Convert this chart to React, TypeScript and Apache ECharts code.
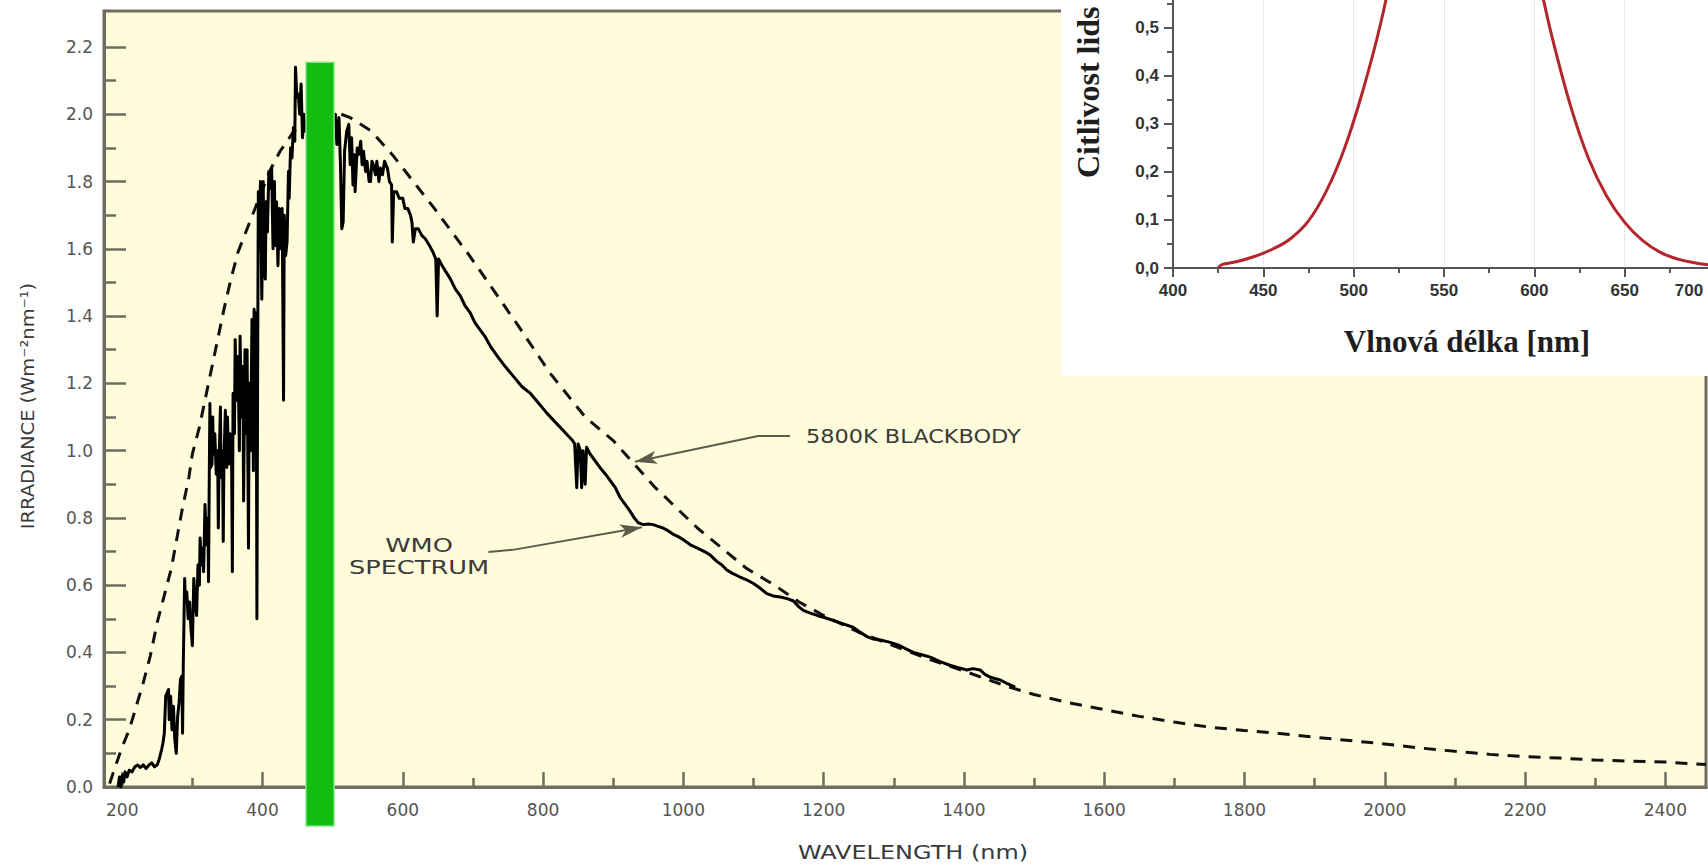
import React, { useEffect, useRef } from 'react';
import * as echarts from 'echarts';

// ---------- main chart data ----------
const wavelengthTicks = [200, 400, 600, 800, 1000, 1200, 1400, 1600, 1800, 2000, 2200, 2400];
const wavelengthMinorTicks = [300, 500, 700, 900, 1100, 1300, 1500, 1700, 1900, 2100, 2300];
const irradianceTicks = [0, 0.2, 0.4, 0.6, 0.8, 1.0, 1.2, 1.4, 1.6, 1.8, 2.0, 2.2];
const irradianceMinorTicks = [0.1, 0.3, 0.5, 0.7, 0.9, 1.1, 1.3, 1.5, 1.7, 1.9, 2.1];

// 5800 K blackbody (dashed) [nm, W m-2 nm-1]
const blackbody: [number, number][] = [
  [182, 0.01], [190, 0.06], [200, 0.12], [210, 0.17], [220, 0.24], [230, 0.31], [240, 0.39], [250, 0.49],
  [260, 0.57], [270, 0.65], [285, 0.82], [295, 0.92], [300, 0.99], [310, 1.07], [325, 1.22], [335, 1.32],
  [345, 1.42], [355, 1.51], [365, 1.59], [380, 1.67], [395, 1.75], [410, 1.83], [425, 1.89], [445, 1.95],
  [470, 1.99], [500, 2.01], [525, 1.99], [555, 1.95], [585, 1.88], [615, 1.8], [645, 1.72], [670, 1.65],
  [695, 1.58], [715, 1.52], [735, 1.46], [765, 1.37], [810, 1.23], [860, 1.1], [900, 1.03], [930, 0.96],
  [960, 0.89], [990, 0.83], [1020, 0.77], [1055, 0.71], [1090, 0.65], [1130, 0.6], [1165, 0.55], [1200, 0.51],
  [1250, 0.46], [1300, 0.42], [1350, 0.38], [1400, 0.345], [1460, 0.3], [1500, 0.275], [1550, 0.25],
  [1600, 0.23], [1650, 0.21], [1700, 0.193], [1750, 0.178], [1800, 0.168], [1850, 0.159], [1900, 0.148],
  [1950, 0.138], [2000, 0.128], [2050, 0.116], [2100, 0.106], [2150, 0.097], [2200, 0.09], [2250, 0.086],
  [2300, 0.08], [2350, 0.077], [2400, 0.074], [2458, 0.067],
];

// WMO measured spectrum (solid) [nm, W m-2 nm-1]
const wmoSpectrum: [number, number][] = [
  [194, 0.0], [196, 0.03], [198, 0.0], [200, 0.035], [202, 0.015], [204, 0.045], [207, 0.03], [210, 0.05],
  [214, 0.045], [218, 0.06], [222, 0.065], [226, 0.058], [230, 0.066], [234, 0.055], [238, 0.065], [242, 0.072],
  [246, 0.06], [250, 0.066], [253, 0.085], [256, 0.11], [258, 0.13], [260, 0.16], [262, 0.27], [264, 0.28],
  [266, 0.29], [267, 0.2], [269, 0.27], [271, 0.17], [273, 0.24], [275, 0.14], [277, 0.1], [279, 0.21],
  [281, 0.25], [283, 0.32], [285, 0.33], [286, 0.16], [287, 0.36], [289, 0.62], [290, 0.55], [292, 0.58],
  [294, 0.5], [296, 0.55], [298, 0.47], [300, 0.42], [302, 0.62], [304, 0.55], [306, 0.51], [308, 0.66],
  [310, 0.6], [311, 0.74], [313, 0.66], [315, 0.71], [316, 0.64], [318, 0.84], [320, 0.72], [322, 0.8],
  [323, 0.61], [324, 0.9], [325, 1.14], [326, 0.95], [328, 0.96], [329, 1.1], [330, 0.99], [332, 1.05],
  [334, 0.93], [336, 1.0], [337, 0.77], [338, 0.96], [340, 1.13], [341, 0.92], [343, 1.0], [344, 0.73],
  [345, 0.97], [347, 1.12], [349, 0.95], [350, 1.1], [352, 0.96], [354, 1.05], [356, 0.95], [357, 0.64],
  [358, 1.17], [360, 1.05], [361, 1.33], [363, 1.15], [365, 1.28], [367, 1.0], [368, 1.34], [370, 1.1],
  [372, 1.25], [373, 0.85], [375, 1.3], [377, 1.05], [378, 1.3], [380, 0.71], [381, 1.2], [383, 1.0],
  [385, 1.39], [387, 0.94], [388, 1.42], [390, 1.1], [391, 1.41], [392, 0.5], [393, 1.2], [394, 1.77],
  [396, 1.6], [397, 1.8], [399, 1.45], [401, 1.8], [402, 1.55], [404, 1.51], [405, 1.74], [407, 1.65],
  [409, 1.83], [411, 1.78], [413, 1.84], [415, 1.6], [417, 1.8], [418, 1.61], [420, 1.74], [422, 1.55],
  [424, 1.72], [426, 1.6], [428, 1.72], [430, 1.15], [431, 1.7], [433, 1.58], [435, 1.62], [437, 1.83],
  [438, 1.75], [440, 1.9], [442, 1.87], [444, 1.96], [446, 1.92], [447, 2.14], [449, 2.05], [451, 2.06],
  [453, 2.0], [455, 2.09], [457, 1.93], [459, 2.0], [461, 1.95], [470, 2.0], [480, 2.04], [490, 1.96],
  [500, 1.98], [504, 2.0], [506, 1.91], [509, 1.99], [511, 1.86], [513, 1.66], [515, 1.68], [517, 1.89],
  [520, 1.95], [523, 1.97], [525, 1.85], [527, 1.93], [529, 1.79], [531, 1.88], [532, 1.77], [535, 1.9],
  [537, 1.88], [540, 1.92], [542, 1.85], [544, 1.89], [547, 1.83], [549, 1.86], [552, 1.8], [554, 1.8],
  [556, 1.86], [558, 1.85], [561, 1.82], [563, 1.86], [566, 1.8], [568, 1.84], [571, 1.82], [574, 1.86],
  [578, 1.84], [581, 1.8], [584, 1.79], [585, 1.62], [587, 1.77], [591, 1.77], [595, 1.75], [600, 1.75],
  [603, 1.72], [607, 1.72], [611, 1.7], [613, 1.68], [615, 1.62], [618, 1.66], [622, 1.66], [627, 1.64],
  [632, 1.63], [638, 1.61], [643, 1.59], [647, 1.57], [649, 1.4], [651, 1.57], [656, 1.55], [662, 1.53],
  [668, 1.51], [675, 1.48], [682, 1.46], [689, 1.43], [696, 1.41], [703, 1.38], [710, 1.36], [717, 1.34],
  [725, 1.31], [735, 1.28], [746, 1.25], [758, 1.22], [770, 1.19], [782, 1.17], [794, 1.14], [806, 1.11],
  [815, 1.09], [824, 1.07], [833, 1.05], [842, 1.03], [845, 1.02], [848, 0.89], [850, 1.02], [853, 1.0],
  [855, 0.89], [857, 1.0], [860, 0.9], [862, 1.01], [867, 0.99], [874, 0.97], [881, 0.95], [889, 0.93],
  [896, 0.91], [903, 0.89], [910, 0.86], [917, 0.84], [924, 0.82], [930, 0.8], [936, 0.785], [943, 0.78],
  [950, 0.782], [957, 0.78], [964, 0.775], [971, 0.77], [978, 0.762], [985, 0.752], [992, 0.745], [1000, 0.735],
  [1010, 0.72], [1020, 0.71], [1030, 0.7], [1038, 0.69], [1048, 0.67], [1055, 0.66], [1062, 0.645], [1070, 0.635],
  [1080, 0.625], [1091, 0.615], [1100, 0.605], [1110, 0.59], [1119, 0.575], [1128, 0.568], [1138, 0.565],
  [1148, 0.56], [1157, 0.553], [1164, 0.537], [1171, 0.525], [1181, 0.517], [1191, 0.51], [1202, 0.503],
  [1214, 0.495], [1228, 0.485], [1242, 0.475], [1252, 0.46], [1262, 0.447], [1271, 0.44], [1281, 0.437],
  [1295, 0.43], [1309, 0.42], [1318, 0.41], [1328, 0.4], [1340, 0.393], [1352, 0.386], [1366, 0.373],
  [1380, 0.362], [1392, 0.355], [1404, 0.348], [1413, 0.352], [1423, 0.348], [1430, 0.335], [1437, 0.327],
  [1445, 0.322], [1452, 0.318], [1462, 0.307], [1473, 0.297],
];

// green band [from nm, to nm, top value, bottom value]
const greenBand: [number, number, number, number][] = [[462, 502, 2.155, -0.116]];

// annotation leaders, in data coordinates
const blackbodyLeader: [number, number][] = [[1152, 1.043], [1105, 1.043], [931, 0.967]];
const wmoLeader: [number, number][] = [[722, 0.699], [757, 0.705], [941, 0.772]];

// ---------- inset (eye sensitivity) ----------
const eyeTicks = [400, 450, 500, 550, 600, 650, 700];
const eyeSensitivity: [number, number][] = [
  [425, 0.0], [427, 0.007], [435, 0.013], [445, 0.024], [455, 0.039],
  [465, 0.061], [475, 0.098], [485, 0.161],
  [495, 0.25], [505, 0.368], [515, 0.51], [525, 0.685],
  [540, 0.91], [555, 1.0], [570, 0.945], [585, 0.81], [600, 0.635],
  [610, 0.478], [620, 0.338], [630, 0.228],
  [640, 0.15], [650, 0.095], [660, 0.057], [670, 0.032],
  [680, 0.018], [690, 0.01], [700, 0.005],
];

const axisGray = '#6f6d60';
const labelGray = '#555555';

function leaderData(pts: [number, number][]) {
  const out: any[] = [];
  for (let i = 0; i < pts.length - 1; i++) {
    const last = i === pts.length - 2;
    out.push([
      { coord: pts[i], symbol: 'none' },
      last ? { coord: pts[i + 1], symbol: 'arrow', symbolSize: [10, 22] } : { coord: pts[i + 1], symbol: 'none' },
    ]);
  }
  return out;
}

function textEl(x: number, y: number, text: string, opts: any = {}) {
  const align = opts.align || 'center';
  return {
    type: 'text',
    x,
    y,
    rotation: opts.rotation || 0,
    scaleX: opts.scaleX || 1,
    z: opts.z || 5,
    silent: true,
    style: {
      text,
      fill: opts.fill || '#3a3a3a',
      fontFamily: opts.fontFamily || 'DejaVu Sans',
      fontSize: opts.fontSize || 19,
      fontWeight: opts.fontWeight || 'normal',
      lineHeight: opts.lineHeight,
      textAlign: align,
      align,
      textVerticalAlign: 'middle',
      verticalAlign: 'middle',
    },
  };
}

export default function App() {
  const ref = useRef<HTMLDivElement>(null);
  useEffect(() => {
    document.body.style.margin = '0';
    const chart = echarts.init(ref.current!, null, { renderer: 'svg', width: 1708, height: 866 });
    const lastEyeTick = eyeTicks[eyeTicks.length - 1];
    const option: any = {
      animation: false,
      backgroundColor: '#ffffff',
      grid: [
        {
          left: 104, top: 11, width: 1602, height: 776, show: true,
          backgroundColor: '#fffcdb', borderColor: axisGray, borderWidth: 3,
          containLabel: false, outerBoundsMode: 'none', z: 0,
        },
        { left: 1173, top: -1, width: 542, height: 269, show: false, containLabel: false, outerBoundsMode: 'none', z: 20 },
      ],
      xAxis: [
        {
          type: 'value', gridIndex: 0, min: 174, max: 2458, position: 'bottom',
          axisLine: { show: true, lineStyle: { color: axisGray, width: 3 } },
          axisTick: { show: true, inside: true, length: 15, customValues: wavelengthTicks, lineStyle: { color: axisGray, width: 2.5 } },
          axisLabel: {
            show: true, customValues: wavelengthTicks, margin: 14, color: labelGray,
            fontFamily: 'DejaVu Sans', fontSize: 17, formatter: (v: number) => String(v),
          },
          splitLine: { show: false },
        },
        {
          type: 'value', gridIndex: 0, min: 174, max: 2458, position: 'bottom',
          axisLine: { show: false },
          axisTick: { show: true, inside: true, length: 9, customValues: wavelengthMinorTicks, lineStyle: { color: axisGray, width: 2.5 } },
          axisLabel: { show: false },
          splitLine: { show: false },
        },
        {
          type: 'value', gridIndex: 1, min: 400, max: 700, interval: 50, position: 'bottom', z: 20,
          axisLine: { show: true, lineStyle: { color: '#555555', width: 2 } },
          axisTick: { show: true, inside: false, length: 9, lineStyle: { color: '#555555', width: 2 } },
          minorTick: { show: true, splitNumber: 2, length: 5, lineStyle: { color: '#555555', width: 2 } },
          axisLabel: {
            margin: 14, color: '#333333', fontFamily: 'Liberation Sans', fontWeight: 'bold', fontSize: 17,
            formatter: (v: number) => (v === lastEyeTick ? '{edge|' + v + '}' : String(v)),
            rich: { edge: { padding: [0, 52, 0, 0], color: '#333333', fontFamily: 'Liberation Sans', fontWeight: 'bold', fontSize: 17 } },
          },
          splitLine: { show: true, lineStyle: { color: '#cfcfcf', type: 'dotted', width: 1 } },
        },
      ],
      yAxis: [
        {
          type: 'value', gridIndex: 0, min: 0, max: 2.307, position: 'left',
          axisLine: { show: true, lineStyle: { color: axisGray, width: 3 } },
          axisTick: { show: true, inside: true, length: 22, customValues: irradianceTicks, lineStyle: { color: axisGray, width: 2.5 } },
          axisLabel: {
            show: true, customValues: irradianceTicks, margin: 11, color: labelGray,
            fontFamily: 'DejaVu Sans', fontSize: 17, formatter: (v: number) => v.toFixed(1),
          },
          splitLine: { show: false },
        },
        {
          type: 'value', gridIndex: 0, min: 0, max: 2.307, position: 'left',
          axisLine: { show: false },
          axisTick: { show: true, inside: true, length: 12, customValues: irradianceMinorTicks, lineStyle: { color: axisGray, width: 2.5 } },
          axisLabel: { show: false },
          splitLine: { show: false },
        },
        {
          type: 'value', gridIndex: 1, min: 0, max: 0.56, interval: 0.1, position: 'left', z: 20,
          axisLine: { show: true, lineStyle: { color: '#555555', width: 2 } },
          axisTick: { show: true, inside: false, length: 9, lineStyle: { color: '#555555', width: 2 } },
          minorTick: { show: true, splitNumber: 2, length: 6, lineStyle: { color: '#555555', width: 2 } },
          axisLabel: {
            margin: 14, color: '#333333', fontFamily: 'Liberation Sans', fontWeight: 'bold', fontSize: 17,
            showMaxLabel: false, formatter: (v: number) => v.toFixed(1).replace('.', ','),
          },
          splitLine: { show: false },
        },
      ],
      series: [
        {
          type: 'line', name: '5800K BLACKBODY', xAxisIndex: 0, yAxisIndex: 0, data: blackbody,
          symbol: 'none', z: 3, lineStyle: { color: '#111111', width: 3, type: [12, 9] },
          markLine: {
            silent: true, animation: false, symbol: ['none', 'none'], label: { show: false },
            emphasis: { disabled: true },
            lineStyle: { color: '#5c5a4c', width: 2, type: 'solid' },
            data: leaderData(blackbodyLeader),
          },
        },
        {
          type: 'line', name: 'WMO SPECTRUM', xAxisIndex: 0, yAxisIndex: 0, data: wmoSpectrum,
          symbol: 'none', z: 4, lineStyle: { color: '#000000', width: 3, join: 'round' },
          markLine: {
            silent: true, animation: false, symbol: ['none', 'none'], label: { show: false },
            emphasis: { disabled: true },
            lineStyle: { color: '#5c5a4c', width: 2, type: 'solid' },
            data: leaderData(wmoLeader),
          },
        },
        {
          type: 'custom', name: 'band', xAxisIndex: 0, yAxisIndex: 0, data: greenBand, clip: false, z: 6,
          encode: { x: [0, 1], y: [2, 3] },
          renderItem: (params: any, api: any) => {
            const p0 = api.coord([api.value(0), api.value(2)]);
            const p1 = api.coord([api.value(1), api.value(3)]);
            return {
              type: 'rect',
              shape: { x: p0[0], y: p0[1], width: p1[0] - p0[0], height: p1[1] - p0[1] },
              style: { fill: '#12bd12', stroke: '#86e486', lineWidth: 1.5 },
            };
          },
        },
        {
          type: 'line', name: 'eye', xAxisIndex: 2, yAxisIndex: 2, data: eyeSensitivity,
          symbol: 'none', smooth: 0.4, z: 21, lineStyle: { color: '#b3262c', width: 3 },
        },
      ],
      graphic: {
        elements: [
          { type: 'rect', shape: { x: 1061, y: 0, width: 647, height: 376 }, style: { fill: '#ffffff' }, z: 10, silent: true },
          textEl(806, 437, '5800K BLACKBODY', { align: 'left', scaleX: 1.18 }),
          textEl(419, 556, 'WMO\nSPECTRUM', { scaleX: 1.35, lineHeight: 22 }),
          textEl(913, 852, 'WAVELENGTH (nm)', { scaleX: 1.26 }),
          textEl(28, 406, 'IRRADIANCE (Wm⁻²nm⁻¹)', { rotation: Math.PI / 2, scaleX: 1.08, fontSize: 18 }),
          textEl(1467, 341, 'Vlnová délka [nm]', {
            fontFamily: 'Liberation Serif', fontWeight: 'bold', fontSize: 31, fill: '#1e1e1e', z: 22,
          }),
          textEl(1088, 178, 'Citlivost lids', {
            align: 'left', rotation: Math.PI / 2, fontFamily: 'Liberation Serif', fontWeight: 'bold',
            fontSize: 32, fill: '#1e1e1e', z: 22,
          }),
        ],
      },
    };
    chart.setOption(option);
    return () => chart.dispose();
  }, []);
  return (
    <div
      ref={ref}
      style={{ position: 'absolute', left: 0, top: 0, width: 1708, height: 866, background: '#ffffff' }}
    />
  );
}
